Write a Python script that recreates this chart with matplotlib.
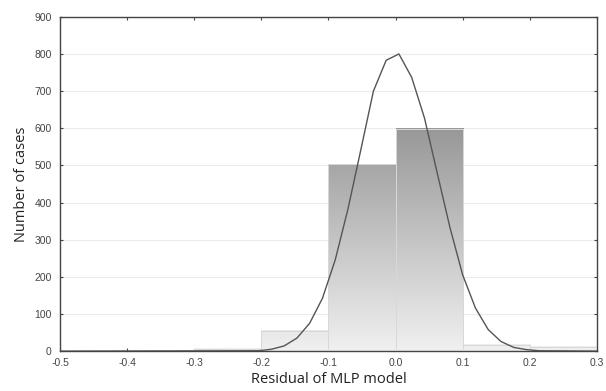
import numpy as np
import matplotlib.pyplot as plt
from matplotlib.colors import LinearSegmentedColormap

# histogram of residuals
bin_left = [-0.3, -0.2, -0.1, 0.0, 0.1, 0.2]
counts = [7, 55, 503, 598, 17, 12]
bin_width = 0.1

# fitted normal curve
curve_x = [-0.5, -0.204, -0.185, -0.166, -0.147, -0.128, -0.109, -0.090, -0.071,
           -0.052, -0.033, -0.014, 0.005, 0.024, 0.043, 0.062, 0.081, 0.100,
           0.119, 0.138, 0.157, 0.176, 0.195, 0.214, 0.3]
curve_y = [0, 1, 5, 14, 35, 75, 142, 245, 382, 540, 700, 783, 800, 737, 628,
           480, 333, 205, 116, 58, 26, 10, 4, 1, 0]

xticks = [-0.5, -0.4, -0.3, -0.2, -0.1, 0.0, 0.1, 0.2, 0.3]
yticks = list(range(0, 1000, 100))

fig = plt.figure(figsize=(6.06, 3.91), dpi=100)
ax = fig.add_axes([0.099, 0.102, 0.886, 0.855])

# gradient fill: light at the bottom, darker higher up
cmap = LinearSegmentedColormap.from_list('bars', ['#f0f0f0', '#959595'])
for left, c in zip(bin_left, counts):
	grad = np.linspace(0, c, 200).reshape(-1, 1)
	ax.imshow(grad, extent=[left, left + bin_width, 0, c], origin='lower',
	          cmap=cmap, vmin=0, vmax=620, aspect='auto', zorder=2)
	ax.add_patch(plt.Rectangle((left, 0), bin_width, c, fill=False,
	                           edgecolor='#d8d8d8', lw=0.7, zorder=3))

ax.plot(curve_x, curve_y, color='#555555', lw=1.0, zorder=4)

ax.set_xlim(-0.5, 0.3)
ax.set_ylim(0, 900)
ax.set_xticks(xticks)
ax.set_xticklabels(['%.1f' % t for t in xticks])
ax.set_yticks(yticks)

ax.grid(axis='y', color='#ececec', lw=0.8, zorder=0)
ax.set_axisbelow(True)
for s in ax.spines.values():
	s.set_color('#444444')
	s.set_linewidth(1.0)
ax.tick_params(direction='in', length=2.5, width=0.8, color='#444444',
               labelsize=7.5, labelcolor='#444444', top=True, right=True,
               labelfontfamily='Liberation Sans')
ax.tick_params(axis='x', pad=5)
ax.tick_params(axis='y', pad=6)

ax.set_xlabel('Residual of MLP model', fontsize=10.5, family='Open Sans', color='#222222', labelpad=3)
ax.set_ylabel('Number of cases', fontsize=10.5, family='Open Sans', color='#222222', labelpad=4)

plt.savefig('out.png', dpi=100)
